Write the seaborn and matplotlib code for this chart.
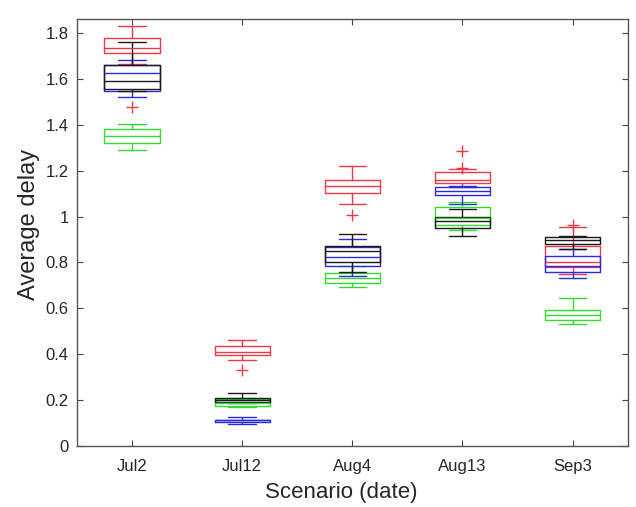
import pandas as pd
import numpy as np
import matplotlib
matplotlib.use('Agg')
import matplotlib.pyplot as plt
import seaborn as sns

scenarios = ['Jul2', 'Jul12', 'Aug4', 'Aug13', 'Sep3']

# five-number summary per scenario: lower whisker, q1, median, q3, upper whisker
red = [
    [1.665, 1.710, 1.733, 1.777, 1.830],
    [0.375, 0.399, 0.412, 0.435, 0.464],
    [1.055, 1.104, 1.133, 1.159, 1.222],
    [1.130, 1.145, 1.161, 1.194, 1.205],
    [0.750, 0.780, 0.800, 0.870, 0.955],
]
green = [
    [1.290, 1.320, 1.349, 1.381, 1.401],
    [0.170, 0.177, 0.190, 0.205, 0.210],
    [0.693, 0.710, 0.733, 0.754, 0.783],
    [0.943, 0.965, 0.995, 1.040, 1.064],
    [0.533, 0.551, 0.573, 0.591, 0.645],
]
blue = [
    [1.520, 1.547, 1.627, 1.660, 1.681],
    [0.096, 0.104, 0.113, 0.116, 0.125],
    [0.740, 0.783, 0.823, 0.868, 0.901],
    [1.055, 1.093, 1.110, 1.128, 1.135],
    [0.733, 0.757, 0.783, 0.826, 0.858],
]
black = [
    [1.548, 1.556, 1.591, 1.661, 1.761],
    [0.190, 0.194, 0.201, 0.210, 0.233],
    [0.760, 0.801, 0.849, 0.870, 0.922],
    [0.913, 0.951, 0.980, 1.000, 1.032],
    [0.858, 0.881, 0.899, 0.910, 0.915],
]

red_out_x = ['Jul2', 'Jul12', 'Aug4', 'Aug13', 'Aug13', 'Sep3']
red_out_y = [1.478, 0.333, 1.007, 1.287, 1.210, 0.965]

series = {'red': red, 'green': green, 'blue': blue, 'black': black}
colors = {'red': '#ec3a48', 'green': '#30dd30', 'blue': '#2a2ae0', 'black': '#1a1a1a'}

rows = []
for name, stats in series.items():
    for scen, vals in zip(scenarios, stats):
        for v in vals:
            rows.append((name, scen, v))
df = pd.DataFrame(rows, columns=['series', 'scenario', 'value'])
out_df = pd.DataFrame({'scenario': red_out_x, 'value': red_out_y})

sns.set_style('white')
plt.rcParams['font.family'] = ['Liberation Sans', 'DejaVu Sans']

fig = plt.figure(figsize=(6.36, 5.07), dpi=100)
ax = fig.add_axes([0.121, 0.120, 0.866, 0.8425])

for name in series:
    sns.boxplot(data=df[df['series'] == name], x='scenario', y='value', order=scenarios,
                fill=False, color=colors[name], width=0.5, whis=(0, 100),
                showfliers=False, linewidth=1, ax=ax)

sns.stripplot(data=out_df, x='scenario', y='value', order=scenarios, jitter=False,
              marker='+', color=colors['red'], size=9, linewidth=1, ax=ax)

ax.set_xlim(-0.5, 4.5)
ax.set_ylim(0, 1.86)
ax.set_yticks(np.arange(0, 1.81, 0.2))
ax.set_yticklabels(['0', '0.2', '0.4', '0.6', '0.8', '1', '1.2', '1.4', '1.6', '1.8'])
ax.set_xlabel('Scenario (date)', fontsize=16, labelpad=6)
ax.set_ylabel('Average delay', fontsize=17, labelpad=4)
ax.xaxis.label.set_x(0.479)
ax.yaxis.label.set_y(0.52)
ax.tick_params(axis='both', labelsize=12, direction='in', length=4, color='#444444',
               top=True, right=True, bottom=True, left=True)
ax.tick_params(axis='x', pad=9)
ax.tick_params(axis='y', pad=6)
for s in ax.spines.values():
    s.set_visible(True)
    s.set_color('#555555')
    s.set_linewidth(1)

fig.savefig('out.png', dpi=100)
